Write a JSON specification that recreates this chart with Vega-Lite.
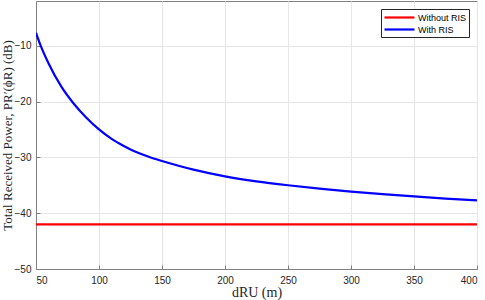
{
  "$schema": "https://vega.github.io/schema/vega-lite/v6.json",
  "width": 441,
  "height": 268,
  "autosize": {"type": "none"},
  "padding": {"left": 36, "top": 1, "right": 8, "bottom": 31},
  "background": "white",
  "config": {
    "view": {"stroke": "#808080", "strokeWidth": 1},
    "axis": {
      "labelFont": "Liberation Sans",
      "labelFontSize": 10,
      "labelColor": "#262626",
      "titleFont": "Liberation Serif",
      "titleFontSize": 13,
      "titleFontWeight": "normal",
      "titleColor": "#262626",
      "domainColor": "#808080",
      "tickColor": "#808080",
      "gridColor": "#e6e6e6",
      "gridWidth": 1,
      "tickSize": -4
    }
  },
  "data": {
    "values": [
      {"d": 50, "p": -7.7, "s": "With RIS"},
      {"d": 53.7, "p": -10.0, "s": "With RIS"},
      {"d": 60, "p": -13.2, "s": "With RIS"},
      {"d": 70, "p": -17.3, "s": "With RIS"},
      {"d": 80, "p": -20.4, "s": "With RIS"},
      {"d": 90, "p": -22.9, "s": "With RIS"},
      {"d": 100, "p": -25.0, "s": "With RIS"},
      {"d": 110, "p": -26.7, "s": "With RIS"},
      {"d": 120, "p": -28.0, "s": "With RIS"},
      {"d": 130, "p": -29.1, "s": "With RIS"},
      {"d": 140, "p": -29.95, "s": "With RIS"},
      {"d": 150, "p": -30.65, "s": "With RIS"},
      {"d": 175, "p": -32.2, "s": "With RIS"},
      {"d": 200, "p": -33.4, "s": "With RIS"},
      {"d": 225, "p": -34.3, "s": "With RIS"},
      {"d": 250, "p": -35.0, "s": "With RIS"},
      {"d": 275, "p": -35.6, "s": "With RIS"},
      {"d": 300, "p": -36.15, "s": "With RIS"},
      {"d": 325, "p": -36.6, "s": "With RIS"},
      {"d": 350, "p": -37.0, "s": "With RIS"},
      {"d": 375, "p": -37.4, "s": "With RIS"},
      {"d": 400, "p": -37.7, "s": "With RIS"},
      {"d": 50, "p": -42.0, "s": "Without RIS"},
      {"d": 400, "p": -42.0, "s": "Without RIS"}
    ]
  },
  "mark": {"type": "line", "interpolate": "monotone", "strokeWidth": 2.2, "clip": true},
  "encoding": {
    "x": {
      "field": "d",
      "type": "quantitative",
      "scale": {"domain": [50, 400], "nice": false},
      "axis": {"values": [50, 100, 150, 200, 250, 300, 350, 400], "title": "dRU (m)", "titleFontSize": 14, "titleY": 23, "titleBaseline": "middle", "labelPadding": 10}
    },
    "y": {
      "field": "p",
      "type": "quantitative",
      "scale": {"domain": [-50, -2], "nice": false},
      "axis": {"values": [-50, -40, -30, -20, -10], "title": "Total Received Power, PR′(ϕR) (dB)", "titleX": -29, "titleBaseline": "middle", "labelPadding": 9}
    },
    "color": {
      "field": "s",
      "type": "nominal",
      "scale": {"domain": ["Without RIS", "With RIS"], "range": ["#ff0000", "#0000ff"]},
      "legend": {
        "orient": "top-right",
        "title": null,
        "fillColor": "white",
        "strokeColor": "#262626",
        "padding": 2,
        "offset": 8,
        "labelFont": "Liberation Sans",
        "labelFontSize": 9,
        "labelColor": "#000000",
        "labelOffset": 22,
        "symbolType": "M-1,0H5",
        "symbolSize": 100,
        "symbolStrokeWidth": 2.2,
        "rowPadding": 0
      }
    }
  }
}
